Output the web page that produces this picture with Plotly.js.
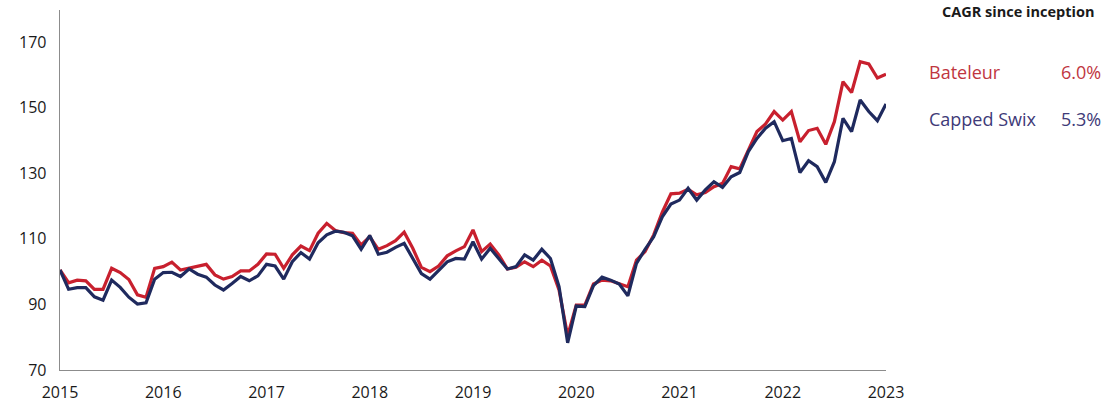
<!DOCTYPE html>
<html>
<head>
<meta charset="utf-8">
<script src="https://cdn.plot.ly/plotly-3.0.1.min.js"></script>
<style>
  html, body { margin: 0; padding: 0; background: #ffffff; }
  #chart { width: 1104px; height: 405px; }
</style>
</head>
<body>
<div id="chart"></div>
<script>
// Monthly index values, Jan 2015 (index 0) to Jan 2023 (index 96)
const bateleur = [
  100.5, 96.6, 97.4, 97.2, 94.6, 94.6, 101.0, 99.7, 97.6, 92.9, 92.2, 101.0,
  101.5, 102.9, 100.5, 101.0, 101.7, 102.2, 99.0, 97.7, 98.5, 100.2, 100.2, 102.2,
  105.4, 105.3, 101.0, 105.1, 107.8, 106.4, 111.7, 114.7, 112.5, 111.9, 111.7, 108.1,
  110.6, 106.8, 107.9, 109.4, 112.0, 107.1, 101.3, 100.0, 101.7, 104.8, 106.3, 107.6,
  112.7, 106.1, 108.4, 105.1, 100.8, 101.3, 103.0, 101.5, 103.5, 101.7, 94.4, 80.5,
  89.8, 89.8, 96.2, 97.4, 97.2, 96.4, 95.4, 103.5, 106.1, 111.2, 118.1, 123.7,
  123.9, 125.1, 123.4, 124.1, 125.9, 126.9, 132.0, 131.3, 137.1, 142.7, 145.0, 148.8,
  146.2, 148.8, 139.6, 143.0, 143.7, 138.8, 145.7, 157.9, 154.6, 164.0, 163.3, 159.0,
  160.2
];
const cappedSwix = [
  100.5, 94.6, 95.1, 95.1, 92.3, 91.3, 97.4, 95.2, 92.2, 90.1, 90.5, 97.7,
  99.7, 99.8, 98.5, 100.8, 99.2, 98.3, 95.9, 94.4, 96.4, 98.5, 97.2, 98.7,
  102.2, 101.7, 97.7, 103.0, 105.8, 103.8, 108.8, 111.2, 112.3, 112.0, 110.9, 106.8,
  111.0, 105.3, 105.9, 107.4, 108.6, 104.0, 99.4, 97.7, 100.4, 103.0, 104.0, 103.8,
  109.1, 103.8, 107.1, 103.8, 100.8, 101.5, 105.1, 103.5, 106.8, 104.0, 95.4, 78.3,
  89.5, 89.3, 95.7, 98.3, 97.4, 96.2, 92.6, 102.5, 106.8, 110.6, 116.7, 120.6,
  121.8, 125.4, 121.8, 124.9, 127.4, 125.7, 128.9, 130.2, 136.6, 140.6, 143.7, 145.7,
  139.9, 140.6, 130.2, 133.8, 132.0, 127.2, 133.5, 146.7, 142.7, 152.3, 148.8, 146.0,
  151.1
];
const yearLabels = ["2015", "2016", "2017", "2018", "2019", "2020", "2021", "2022", "2023"];
const yTicks = [70, 90, 110, 130, 150, 170];
const legendNames = ["Bateleur", "Capped Swix"];
const cagrValues = ["6.0%", "5.3%"];

const months = bateleur.map((_, i) => i);
const yearTickVals = yearLabels.map((_, i) => i * 12);

const RED = "#c8202e";
const NAVY = "#1f2a5e";

// red drawn first, navy on top (as in the reference)
const traces = [
  { x: months, y: bateleur, type: "scatter", mode: "lines", name: legendNames[0],
    line: { color: RED, width: 3.2 }, hoverinfo: "skip" },
  { x: months, y: cappedSwix, type: "scatter", mode: "lines", name: legendNames[1],
    line: { color: NAVY, width: 3.2 }, hoverinfo: "skip" }
];

const tickFont = { family: "Open Sans, Liberation Sans, sans-serif", size: 16, color: "#1a1a1a" };
const legFont = { family: "Open Sans, sans-serif", size: 18 };

// pixel -> paper helpers (plot area: x 60..886, y 10..370)
const px = p => (p - 60) / 826;
const py = p => (370 - p) / 360;

const layout = {
  width: 1104, height: 405,
  margin: { l: 60, r: 218, t: 10, b: 35 },
  paper_bgcolor: "#ffffff", plot_bgcolor: "#ffffff",
  showlegend: false,
  xaxis: {
    range: [0, 96], tickvals: yearTickVals, ticktext: yearLabels,
    showgrid: false, zeroline: false,
    showline: true, linecolor: "#8c8c8c", linewidth: 1.3,
    ticks: "outside", ticklen: 7, tickcolor: "rgba(0,0,0,0)",
    tickfont: tickFont, fixedrange: true
  },
  yaxis: {
    range: [70, 179.75], tickvals: yTicks,
    showgrid: false, zeroline: false,
    showline: true, linecolor: "#8c8c8c", linewidth: 1.3,
    ticks: "outside", ticklen: 9, tickcolor: "rgba(0,0,0,0)",
    tickfont: tickFont, fixedrange: true
  },
  annotations: [
    { xref: "paper", yref: "paper", x: px(1095), y: py(1), xanchor: "right", yanchor: "top",
      text: "<b>CAGR since inception</b>", showarrow: false, borderpad: 0,
      font: { family: "Open Sans, sans-serif", size: 14.5, color: "#1a1a1a" } },
    { xref: "paper", yref: "paper", x: px(927), y: py(72), xanchor: "left", yanchor: "middle",
      text: legendNames[0], showarrow: false, font: Object.assign({ color: "#c0363f" }, legFont) },
    { xref: "paper", yref: "paper", x: px(1103), y: py(72), xanchor: "right", yanchor: "middle",
      text: cagrValues[0], showarrow: false, font: Object.assign({ color: "#c0363f" }, legFont) },
    { xref: "paper", yref: "paper", x: px(927), y: py(119), xanchor: "left", yanchor: "middle",
      text: legendNames[1], showarrow: false, font: Object.assign({ color: "#403a78" }, legFont) },
    { xref: "paper", yref: "paper", x: px(1103), y: py(119), xanchor: "right", yanchor: "middle",
      text: cagrValues[1], showarrow: false, font: Object.assign({ color: "#403a78" }, legFont) }
  ]
};

Plotly.newPlot("chart", traces, layout, { displayModeBar: false, staticPlot: true });
</script>
</body>
</html>
